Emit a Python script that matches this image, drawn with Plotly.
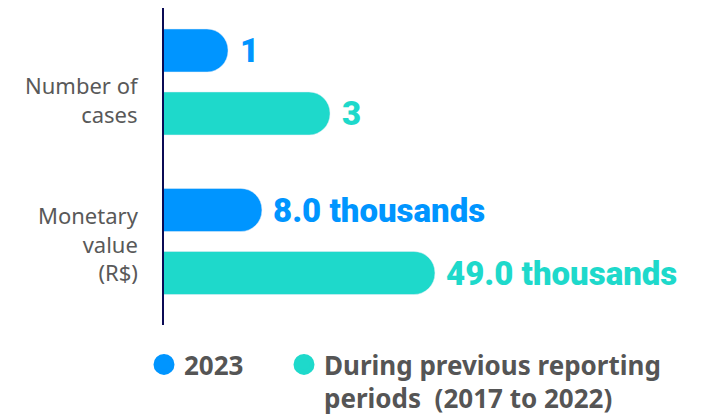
import plotly.graph_objects as go

series_names = ["2023", "During previous reporting<br>periods  (2017 to 2022)"]
colors = ["#0095FF", "#1ED9CB"]
cases_values = [1, 3]
cases_labels = ["1", "3"]
money_values = [8.0, 49.0]
money_labels = ["8.0 thousands", "49.0 thousands"]
cat_cases = "Number of<br>cases"
cat_money = "Monetary<br>value<br>(R$)"

# axis starts (the bars begin at the axis line, scale is not zero-based)
cases_start = -0.255
money_start = -15.2
# bars are anchored further left so that only their right end shows rounded
cases_base = cases_start - 1
money_base = money_start - 20

fig = go.Figure()

# add previous period first so that 2023 sits on top in grouped horizontal bars
for i in [1, 0]:
    fig.add_trace(go.Bar(
        x=[cases_values[i] - cases_base], y=[cat_cases], orientation="h",
        marker=dict(color=colors[i], cornerradius=21), base=cases_base,
        xaxis="x", yaxis="y", showlegend=False, hoverinfo="skip"))
    fig.add_trace(go.Bar(
        x=[money_values[i] - money_base], y=[cat_money], orientation="h",
        marker=dict(color=colors[i], cornerradius=21), base=money_base,
        xaxis="x2", yaxis="y2", showlegend=False, hoverinfo="skip"))

# value labels
vfont = dict(family="Roboto", size=33, weight=900)
for i in range(2):
    off = 0.21 if i == 0 else -0.21
    fig.add_annotation(x=cases_values[i], y=off, xref="x", yref="y",
                       text=cases_labels[i], showarrow=False, xanchor="left",
                       xshift=10, font=dict(vfont, color=colors[i]))
    fig.add_annotation(x=money_values[i], y=off, xref="x2", yref="y2",
                       text=money_labels[i], showarrow=False, xanchor="left",
                       xshift=9, font=dict(vfont, color=colors[i]))

# category labels
catfont = dict(family="Noto Sans", size=22, color="#595959")
fig.add_annotation(x=0, y=0, xref="paper", yref="y", text=cat_cases, showarrow=False,
                   xanchor="right", align="right", xshift=-23, yshift=-17, font=catfont)
fig.add_annotation(x=0, y=0, xref="paper", yref="y2", text=cat_money, showarrow=False,
                   xanchor="right", align="right", xshift=-23, yshift=-2, font=catfont)

# legend entries (two separate legends so they can be spaced like the original)
legend_ids = ["legend", "legend2"]
for i in range(2):
    fig.add_trace(go.Scatter(x=[None], y=[None], mode="markers", name=series_names[i],
                             marker=dict(color=colors[i], size=24, symbol="circle",
                                         line=dict(color=colors[i], width=5)),
                             xaxis="x", yaxis="y", legend=legend_ids[i]))

legfont = dict(family="Noto Sans", size=26, color="#555555", weight=700)
fig.update_layout(
    width=710, height=417,
    margin=dict(l=164, r=10, t=8, b=92, autoexpand=False),
    paper_bgcolor="white", plot_bgcolor="white",
    barmode="group", bargap=0.16, bargroupgap=0.317,
    xaxis=dict(domain=[0, 1], anchor="y", range=[cases_start, cases_start + 536 / 51], visible=False),
    xaxis2=dict(domain=[0, 1], anchor="y2", range=[money_start, money_start + 536 / 4.22], visible=False),
    yaxis=dict(domain=[165 / 317, 1], anchor="x", range=[-0.52, 0.4933],
               showline=True, linecolor="#0B0B55", linewidth=2, showgrid=False,
               zeroline=False, ticks="", showticklabels=False),
    yaxis2=dict(domain=[0, 165 / 317], anchor="x2", range=[-0.5567, 0.5433],
                showline=True, linecolor="#0B0B55", linewidth=2, showgrid=False,
                zeroline=False, ticks="", showticklabels=False),
    legend=dict(xref="container", yref="container", x=144 / 710, y=1 - 341 / 417,
                xanchor="left", yanchor="top", valign="top", font=legfont,
                bgcolor="rgba(0,0,0,0)", itemclick=False),
    legend2=dict(xref="container", yref="container", x=284 / 710, y=1 - 341 / 417,
                 xanchor="left", yanchor="top", valign="top", font=legfont,
                 bgcolor="rgba(0,0,0,0)", itemclick=False),
    showlegend=True,
)

fig.write_html("out.html")
